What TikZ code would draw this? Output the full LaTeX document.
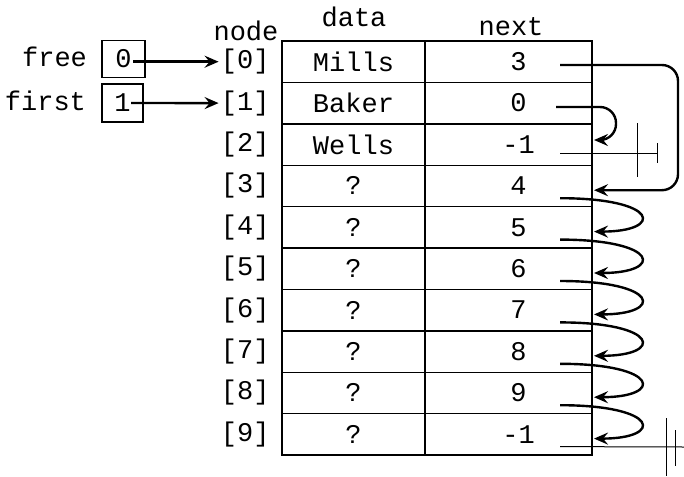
\documentclass[tikz,border=0pt]{standalone}
\usepackage{fontspec}
\setmonofont{Liberation Mono}
\usetikzlibrary{arrows.meta}

\begin{document}
\begin{tikzpicture}[x=0.5pt,y=-0.5pt,
    font=\ttfamily\fontsize{13.5}{16}\selectfont,
    >={Stealth[length=7pt,width=6pt,inset=2.5pt]},
    cell/.style={draw,line width=0.7pt,minimum height=20.7pt,inner sep=0pt},
    link/.style={->,line width=1.2pt},
    nil/.style={line width=0.5pt}]
  \useasboundingbox (0,0) rectangle (684,476);
  \node (hnode) at (246,31) {node};
  \node (hdata) at (354,17) {data};
  \node (hnext) at (511,27) {next};
  \foreach \i/\d/\n in {0/Mills/3,1/Baker/0,2/Wells/-1,3/?/4,4/?/5,5/?/6,6/?/7,7/?/8,8/?/9,9/?/-1} {
    \node[cell,minimum width=71.5pt] (data\i) at (353.5,{61.7+41.4*\i}) {\d};
    \node[cell,minimum width=83.5pt] (next\i) at (508.5,{61.7+41.4*\i}) {\hspace*{10pt}\n};
    \node[anchor=east,inner sep=1pt] (idx\i) at (272,{61.7+41.4*\i}) {[\i]};
    \coordinate (out\i) at (560,{41+41.4*\i+33});
    \coordinate (in\i) at (594,{41+41.4*\i+25});
  }
  \coordinate (out0) at (560,65);
  \coordinate (out1) at (556,107);
  \coordinate (out2) at (560,153);
  \coordinate (in2) at (594,140);

  % free and first
  \node[anchor=east] (free) at (94,57) {free};
  \node[draw,line width=0.7pt,minimum width=21.5pt,minimum height=18.5pt,inner sep=0pt] (freebox) at (123.5,59) {0};
  \node[anchor=east] (first) at (93,101) {first};
  \node[draw,line width=0.7pt,minimum width=20.5pt,minimum height=19pt,inner sep=0pt] (firstbox) at (122.5,103) {1};
  \coordinate (freeout) at (133,61.7);
  \coordinate (firstout) at (131,103);
  \draw[link] (freeout) -- (idx0.west);
  \draw[link] (firstout) -- (idx1.west);

  % next links
  \draw[link,rounded corners=8pt] (out0) -- (678,65) |- (in3);
  \draw[link,rounded corners=8pt] (out1) -- (616,107) |- (in2);
  \foreach \i [count=\j from 4] in {3,...,8}
    \draw[link] (out\i) .. controls +(100,0) and +(70,0) .. (in\j);

  % ends of the lists
  \draw[nil] (out2) -- (657,153) coordinate (nil2);
  \draw[nil] (637,123) -- (637,177) (nil2) ++(0,-10) -- ++(0,20);
  \draw[nil] (out9) -- (684,447) coordinate (nil9);
  \draw[nil] (666,418) -- (666,476) (675,430) -- (675,466);
\end{tikzpicture}
\end{document}
